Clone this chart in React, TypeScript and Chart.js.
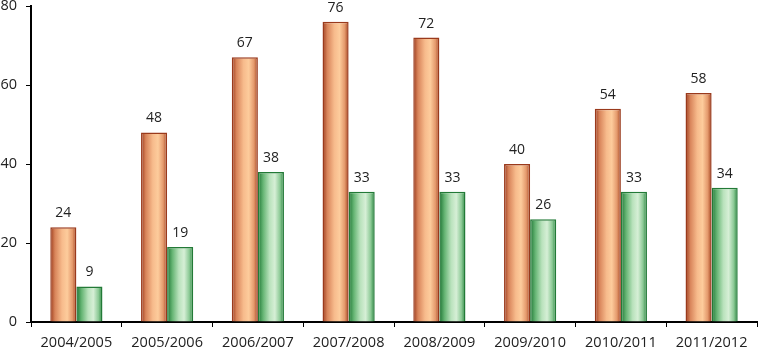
import React, { useEffect, useRef } from "react";
import { Chart, registerables } from "chart.js";

Chart.register(...registerables);

const categories = ["2004/2005", "2005/2006", "2006/2007", "2007/2008", "2008/2009", "2009/2010", "2010/2011", "2011/2012"];
const seriesOrange = [24, 48, 67, 76, 72, 40, 54, 58];
const seriesGreen = [9, 19, 38, 33, 33, 26, 33, 34];
const yTicks = [0, 20, 40, 60, 80];

const CAT_PCT = 0.575;
const FONT = "'Open Sans', 'Liberation Sans', sans-serif";

const orangeStops: [number, string][] = [
  [0, "#9b3a1c"], [0.18, "#d8845a"], [0.45, "#f7bb8c"], [0.65, "#fdcc9c"], [0.85, "#e4996c"], [1, "#a3441f"],
];
const greenStops: [number, string][] = [
  [0, "#1d7433"], [0.2, "#66b574"], [0.45, "#b9e2bc"], [0.65, "#d6efd6"], [0.85, "#8bc995"], [1, "#26843c"],
];

function makeFill(stops: [number, string][], fallback: string) {
  return (c: any) => {
    const chart = c.chart;
    const xs = chart.scales?.x;
    if (!xs || !chart.chartArea || c.dataIndex == null) return fallback;
    const n = categories.length;
    const catW = xs.width / n;
    const groupW = catW * CAT_PCT;
    const barW = groupW / 2;
    const center = xs.getPixelForValue(c.dataIndex);
    const left = center - groupW / 2 + c.datasetIndex * barW;
    if (!isFinite(left)) return fallback;
    const g = chart.ctx.createLinearGradient(left, 0, left + barW, 0);
    stops.forEach(([o, col]) => g.addColorStop(o, col));
    return g;
  };
}

const labelPlugin = {
  id: "valueLabels",
  afterDatasetsDraw(chart: any) {
    const ctx = chart.ctx;
    ctx.save();
    ctx.font = `14px ${FONT}`;
    ctx.fillStyle = "#222";
    ctx.textAlign = "center";
    ctx.textBaseline = "bottom";
    chart.data.datasets.forEach((ds: any, di: number) => {
      const meta = chart.getDatasetMeta(di);
      meta.data.forEach((el: any, i: number) => {
        ctx.fillText(String(ds.data[i]), el.x, el.y - 7);
      });
    });
    ctx.restore();
  },
};

export default function App() {
  const ref = useRef<HTMLCanvasElement | null>(null);
  useEffect(() => {
    document.body.style.margin = "0";
    const chart = new Chart(ref.current!, {
      type: "bar",
      data: {
        labels: categories,
        datasets: [
          {
            data: seriesOrange,
            backgroundColor: makeFill(orangeStops, "#f0a878"),
            borderColor: "#9a3a1c",
            borderWidth: 1.5,
            categoryPercentage: CAT_PCT,
            barPercentage: 1,
          },
          {
            data: seriesGreen,
            backgroundColor: makeFill(greenStops, "#a8dcae"),
            borderColor: "#237a37",
            borderWidth: 1.5,
            categoryPercentage: CAT_PCT,
            barPercentage: 1,
          },
        ],
      },
      options: {
        animation: false,
        responsive: false,
        maintainAspectRatio: false,
        layout: { padding: { top: 6, right: 2, left: 0, bottom: 0 } },
        plugins: { legend: { display: false }, tooltip: { enabled: false } },
        scales: {
          x: {
            grid: { drawOnChartArea: false, drawTicks: true, tickLength: 5, color: "#000", offset: true },
            border: { display: true, color: "#000", width: 2 },
            ticks: { color: "#222", font: { family: FONT, size: 14.5 }, padding: 7, maxRotation: 0, autoSkip: false },
            afterFit: (s: any) => { s.height = 30; s.paddingLeft = 0; s.paddingRight = 0; },
          },
          y: {
            min: 0,
            max: 80,
            afterBuildTicks: (s: any) => { s.ticks = yTicks.map((v) => ({ value: v })); },
            grid: { drawOnChartArea: false, drawTicks: true, tickLength: 5, color: "#000" },
            border: { display: true, color: "#000", width: 2 },
            ticks: { color: "#222", font: { family: FONT, size: 14.5 }, padding: 9 },
            afterFit: (s: any) => { s.width = 31; s.paddingTop = 0; s.paddingBottom = 0; },
          },
        },
      },
      plugins: [labelPlugin],
    });
    return () => chart.destroy();
  }, []);
  return (
    <div style={{ position: "absolute", left: 0, top: 0, width: 759, height: 352 }}>
      <canvas ref={ref} width={759} height={352} style={{ width: 759, height: 352, display: "block" }} />
    </div>
  );
}
